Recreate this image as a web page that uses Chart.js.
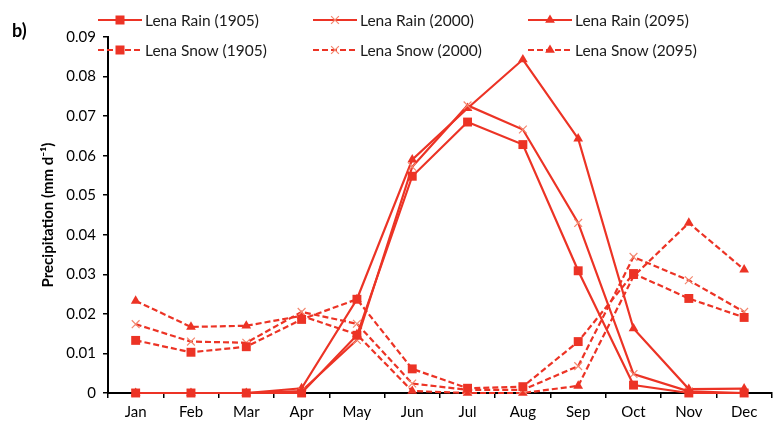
<!DOCTYPE html>
<html>
<head>
<meta charset="utf-8">
<script src="https://cdn.jsdelivr.net/npm/chart.js@4.4.1/dist/chart.umd.min.js"></script>
<style>
  html, body { margin: 0; padding: 0; background: #fff; }
  #wrap { width: 779px; height: 428px; }
</style>
</head>
<body>
<div id="wrap"><canvas id="precip-chart" width="779" height="428"></canvas></div>
<script>
// Lena monthly precipitation, rain vs snow (mm/day)
const months = ['Jan', 'Feb', 'Mar', 'Apr', 'May', 'Jun', 'Jul', 'Aug', 'Sep', 'Oct', 'Nov', 'Dec'];
const rain1905 = [0, 0, 0, 0, 0.0146, 0.0548, 0.0685, 0.0628, 0.0309, 0.0020, 0, 0];
const rain2000 = [0, 0, 0, 0.0005, 0.0134, 0.0572, 0.0727, 0.0666, 0.0430, 0.0048, 0.0004, 0];
const rain2095 = [0, 0, 0, 0.0012, 0.0237, 0.0590, 0.0720, 0.0843, 0.0643, 0.0163, 0.0010, 0.0011];
const snow1905 = [0.0133, 0.0103, 0.0117, 0.0186, 0.0237, 0.0061, 0.0012, 0.0016, 0.0130, 0.0302, 0.0239, 0.0191];
const snow2000 = [0.0174, 0.0130, 0.0127, 0.0205, 0.0175, 0.0024, 0.0008, 0.0008, 0.0068, 0.0344, 0.0285, 0.0205];
const snow2095 = [0.0233, 0.0167, 0.0170, 0.0195, 0.0148, 0.0005, 0, 0, 0.0018, 0.0295, 0.0430, 0.0312];
const yTicks = [0, 0.01, 0.02, 0.03, 0.04, 0.05, 0.06, 0.07, 0.08, 0.09];

const RED = '#ec3325';
const PINK = '#f3876f';
const FONT = 'Lato, "Open Sans", sans-serif';

function serie(label, data, style, dashed) {
    const cross = style === 'crossRot';
    return {
        label: label,
        data: data,
        borderColor: RED,
        backgroundColor: RED,
        borderWidth: 2.2,
        borderDash: dashed ? [6, 3] : [],
        pointStyle: style,
        pointRadius: style === 'rect' ? 6.3 : (cross ? 5.5 : 5.6),
        pointBackgroundColor: RED,
        pointBorderColor: cross ? PINK : RED,
        pointBorderWidth: cross ? 1.2 : 0,
        pointHoverRadius: 6,
        tension: 0,
        clip: false,
        // squares on top, then crosses, then triangles
        order: style === 'rect' ? 0 : (cross ? 1 : 2)
    };
}

// petit marqueur pour la légende
function marker(ctx, style, x, y) {
    ctx.save();
    ctx.setLineDash([]);
    ctx.fillStyle = RED;
    if (style === 'rect') {
        ctx.fillRect(x - 4.5, y - 4.5, 9, 9);
    } else if (style === 'triangle') {
        ctx.beginPath();
        ctx.moveTo(x, y - 5.6);
        ctx.lineTo(x + 4.9, y + 2.8);
        ctx.lineTo(x - 4.9, y + 2.8);
        ctx.closePath();
        ctx.fill();
    } else {
        ctx.strokeStyle = PINK;
        ctx.lineWidth = 1.2;
        ctx.beginPath();
        ctx.moveTo(x - 3.9, y - 3.9); ctx.lineTo(x + 3.9, y + 3.9);
        ctx.moveTo(x + 3.9, y - 3.9); ctx.lineTo(x - 3.9, y + 3.9);
        ctx.stroke();
    }
    ctx.restore();
}

// légende sur deux lignes + repère "b)"
const legendePlugin = {
    id: 'legende',
    afterDraw(chart) {
        const ctx = chart.ctx;
        const colX = [98, 313, 528];
        const rowY = [20, 50];
        ctx.save();
        chart.data.datasets.forEach(function (ds, i) {
            const x = colX[i % 3];
            const y = rowY[Math.floor(i / 3)];
            ctx.strokeStyle = RED;
            ctx.lineWidth = 2.2;
            ctx.setLineDash(ds.borderDash);
            ctx.beginPath();
            ctx.moveTo(x, y);
            ctx.lineTo(x + 44, y);
            ctx.stroke();
            marker(ctx, ds.pointStyle, x + 22, y);
            ctx.fillStyle = '#1a1a1a';
            ctx.font = '15.5px ' + FONT;
            ctx.textAlign = 'left';
            ctx.textBaseline = 'middle';
            ctx.fillText(ds.label, x + 47, y + 1);
        });
        ctx.fillStyle = '#000';
        ctx.font = 'bold 18px ' + FONT;
        ctx.fillText('b)', 12, 31);
        ctx.restore();
    }
};

new Chart(document.getElementById('precip-chart'), {
    type: 'line',
    data: {
        labels: months,
        datasets: [
            serie('Lena Rain (1905)', rain1905, 'rect', false),
            serie('Lena Rain (2000)', rain2000, 'crossRot', false),
            serie('Lena Rain (2095)', rain2095, 'triangle', false),
            serie('Lena Snow (1905)', snow1905, 'rect', true),
            serie('Lena Snow (2000)', snow2000, 'crossRot', true),
            serie('Lena Snow (2095)', snow2095, 'triangle', true)
        ]
    },
    options: {
        responsive: false,
        animation: false,
        devicePixelRatio: 1,
        layout: { padding: { top: 37, right: 0, bottom: 2, left: 0 } },
        plugins: {
            legend: { display: false },
            tooltip: { enabled: false }
        },
        scales: {
            x: {
                offset: true,
                grid: {
                    offset: true,
                    drawOnChartArea: false,
                    drawTicks: true,
                    tickLength: 5,
                    color: '#000',
                    lineWidth: 1.5
                },
                border: { color: '#000', width: 2 },
                ticks: {
                    color: '#000',
                    font: { family: FONT, size: 15 },
                    padding: 5,
                    maxRotation: 0
                }
            },
            y: {
                min: 0,
                max: 0.09,
                afterFit: function (s) { s.width = 108; },
                afterBuildTicks: function (s) {
                    s.ticks = yTicks.map(function (v) { return { value: v }; });
                },
                grid: {
                    drawOnChartArea: false,
                    drawTicks: true,
                    tickLength: 5,
                    color: '#000',
                    lineWidth: 1.5
                },
                border: { color: '#000', width: 2 },
                ticks: {
                    color: '#000',
                    font: { family: FONT, size: 15 },
                    padding: 7,
                    callback: function (v) { return v === 0 ? '0' : v.toFixed(2); }
                },
                title: {
                    display: true,
                    text: 'Precipitation (mm d\u207B\u00B9)',
                    color: '#000',
                    font: { family: FONT, size: 15, weight: 'bold' },
                    padding: { top: 39, bottom: 0 }
                }
            }
        }
    },
    plugins: [legendePlugin]
});
</script>
</body>
</html>
